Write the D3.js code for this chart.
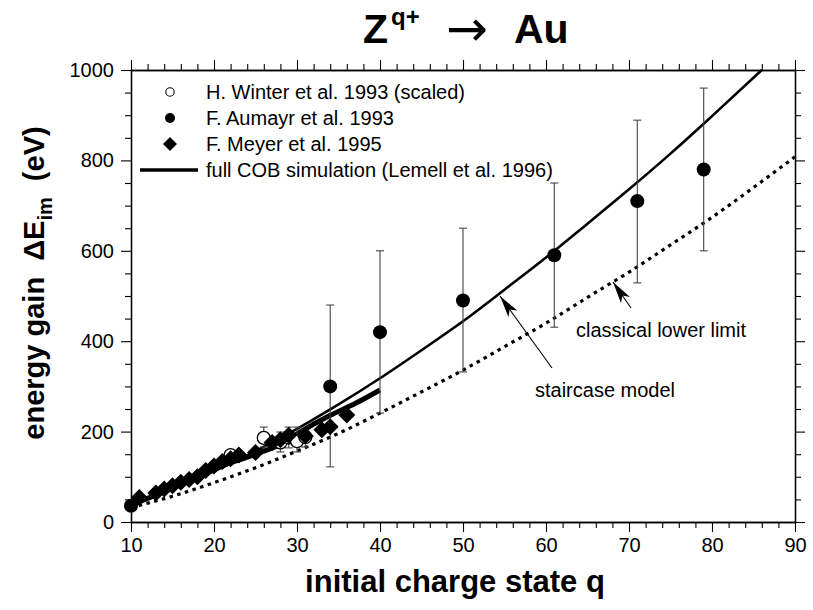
<!DOCTYPE html>
<html><head><meta charset="utf-8">
<script src="https://cdn.jsdelivr.net/npm/d3@7"></script>
<style>body{margin:0;background:#fff} text{font-family:Arial,"Liberation Sans",sans-serif;fill:#000}</style>
</head><body><svg id="c" width="813" height="610"></svg>
<script>
// ---- data ----
const winterQ  = [22, 26, 28, 29, 30, 31];
const winterE  = [148, 186, 176, 187, 179, 188];
const winterLo = [141, 166, 155, 164, 155, 166];
const winterHi = [156, 210, 199, 210, 210, 203];

const aumayrQ  = [10, 34, 40, 50, 61, 71, 79];
const aumayrE  = [36, 300, 420, 490, 590, 710, 780];
const aumayrLo = [36, 122, 241, 332, 431, 529, 600];
const aumayrHi = [36, 480, 600, 650, 750, 889, 960];

const meyerQ = [11, 13, 14, 15, 16, 17, 18, 19, 20, 21, 22, 23, 25, 27, 28, 29, 31, 33, 34, 36];
const meyerE = [54, 64, 73, 80, 88, 94, 100, 114, 124, 134, 140, 148, 154, 176, 182, 192, 190, 204, 211, 237];

const cobQ = [10, 15, 20, 25, 28, 30, 34, 37, 40];
const cobE = [38, 75, 118, 150, 172, 195, 236, 262, 292];

const stairQ = [10, 15, 20, 25, 30, 35, 40, 45, 50, 55, 60, 65, 70, 75, 80, 86];
const stairE = [40, 73, 112, 157, 206, 260, 318, 380, 444, 514, 585, 660, 736, 815, 898, 1000];

const classQ = [10, 15, 20, 25, 30, 35, 40, 45, 50, 55, 60, 65, 70, 75, 80, 85, 90];
const classE = [32, 57, 87, 120, 157, 196, 241, 288, 336, 388, 440, 497, 553, 613, 674, 740, 808];

const xMajor = [10, 20, 30, 40, 50, 60, 70, 80, 90];
const yMajor = [0, 200, 400, 600, 800, 1000];
const legendLabels = ["H. Winter et al. 1993 (scaled)", "F. Aumayr et al. 1993", "F. Meyer et al. 1995", "full COB simulation (Lemell et al. 1996)"];

// ---- drawing ----
const svg = d3.select("#c");
svg.append("rect").attr("width",813).attr("height",610).attr("fill","#fff");
const x = d3.scaleLinear().domain([10,90]).range([131,795]);
const y = d3.scaleLinear().domain([0,1000]).range([522,70]);

const xMinor = d3.range(10,91,2).filter(v=>v%10!==0);
const yMinor = d3.range(0,1001,50).filter(v=>v%200!==0);

function styleAxis(g){
  g.selectAll("path.domain").attr("stroke","#000").attr("stroke-width",1.3);
  g.selectAll(".tick line").attr("stroke","#000").attr("stroke-width",1.1);
  g.selectAll("text").style("font-family","Arial, 'Liberation Sans', sans-serif").style("font-size","20px").attr("fill","#000");
}
// bottom
svg.append("g").attr("transform","translate(0,522)")
  .call(d3.axisBottom(x).tickValues(xMajor).tickSize(10).tickSizeOuter(0).tickPadding(6).tickFormat(d3.format("d")))
  .call(styleAxis);
svg.append("g").attr("transform","translate(0,522)")
  .call(d3.axisBottom(x).tickValues(xMinor).tickSize(6).tickSizeOuter(0).tickFormat(""))
  .call(styleAxis);
// top
svg.append("g").attr("transform","translate(0,70)")
  .call(d3.axisTop(x).tickValues(xMajor).tickSize(10).tickSizeOuter(0).tickFormat(""))
  .call(styleAxis);
svg.append("g").attr("transform","translate(0,70)")
  .call(d3.axisTop(x).tickValues(xMinor).tickSize(6).tickSizeOuter(0).tickFormat(""))
  .call(styleAxis);
// left
svg.append("g").attr("transform","translate(131,0)")
  .call(d3.axisLeft(y).tickValues(yMajor).tickSize(10).tickSizeOuter(0).tickPadding(7).tickFormat(d3.format("d")))
  .call(styleAxis);
svg.append("g").attr("transform","translate(131,0)")
  .call(d3.axisLeft(y).tickValues(yMinor).tickSize(6).tickSizeOuter(0).tickFormat(""))
  .call(styleAxis);
// right
svg.append("g").attr("transform","translate(795,0)")
  .call(d3.axisRight(y).tickValues(yMajor).tickSize(10).tickSizeOuter(0).tickFormat(""))
  .call(styleAxis);
svg.append("g").attr("transform","translate(795,0)")
  .call(d3.axisRight(y).tickValues(yMinor).tickSize(6).tickSizeOuter(0).tickFormat(""))
  .call(styleAxis);

// curves
const line = d3.line().x(d=>x(d[0])).y(d=>y(d[1])).curve(d3.curveMonotoneX);
svg.append("path").datum(d3.zip(classQ,classE)).attr("d",line)
  .attr("fill","none").attr("stroke","#000").attr("stroke-width",3.2).attr("stroke-dasharray","3.5,4.5");
svg.append("path").datum(d3.zip(stairQ,stairE)).attr("d",line)
  .attr("fill","none").attr("stroke","#000").attr("stroke-width",2.6);
svg.append("path").datum(d3.zip(cobQ,cobE)).attr("d",line)
  .attr("fill","none").attr("stroke","#000").attr("stroke-width",5);

// error bars
function errBars(Q,Lo,Hi,cap){
  const g = svg.append("g").attr("stroke","#444").attr("stroke-width",1.1);
  Q.forEach((q,i)=>{
    if (Hi[i]-Lo[i] < 1) return;
    g.append("line").attr("x1",x(q)).attr("x2",x(q)).attr("y1",y(Lo[i])).attr("y2",y(Hi[i]));
    g.append("line").attr("x1",x(q)-cap).attr("x2",x(q)+cap).attr("y1",y(Lo[i])).attr("y2",y(Lo[i]));
    g.append("line").attr("x1",x(q)-cap).attr("x2",x(q)+cap).attr("y1",y(Hi[i])).attr("y2",y(Hi[i]));
  });
}
errBars(winterQ,winterLo,winterHi,4);
errBars(aumayrQ,aumayrLo,aumayrHi,4);

// Winter open circles
svg.append("g").selectAll("circle").data(d3.zip(winterQ,winterE)).join("circle")
  .attr("cx",d=>x(d[0])).attr("cy",d=>y(d[1])).attr("r",6.5)
  .attr("fill","#fff").attr("stroke","#000").attr("stroke-width",1.3);
// Meyer diamonds
const dia = s => `M0,${-s}L${s},0L0,${s}L${-s},0Z`;
svg.append("g").selectAll("path").data(d3.zip(meyerQ,meyerE)).join("path")
  .attr("d",dia(8.5)).attr("transform",d=>`translate(${x(d[0])},${y(d[1])})`).attr("fill","#000");
// Aumayr filled circles
svg.append("g").selectAll("circle").data(d3.zip(aumayrQ,aumayrE)).join("circle")
  .attr("cx",d=>x(d[0])).attr("cy",d=>y(d[1])).attr("r",7).attr("fill","#000");

// legend
const lg = svg.append("g");
const rows = [92,118,144,170];
lg.append("circle").attr("cx",170).attr("cy",rows[0]).attr("r",4.2).attr("fill","#fff").attr("stroke","#000").attr("stroke-width",1.1);
lg.append("circle").attr("cx",170).attr("cy",rows[1]).attr("r",5).attr("fill","#000");
lg.append("path").attr("d",dia(7)).attr("transform",`translate(170,${rows[2]})`).attr("fill","#000");
lg.append("line").attr("x1",140).attr("x2",198).attr("y1",rows[3]).attr("y2",rows[3]).attr("stroke","#000").attr("stroke-width",3.5);
legendLabels.forEach((t,i)=>{
  lg.append("text").attr("x",206).attr("y",rows[i]+7).style("font-size","20px").text(t);
});

// annotations with arrows
const defs = svg.append("defs");
defs.append("marker").attr("id","ah").attr("viewBox","0 -5 20 10").attr("refX",20).attr("refY",0)
  .attr("markerWidth",22).attr("markerHeight",11).attr("markerUnits","userSpaceOnUse").attr("orient","auto")
  .append("path").attr("d","M0,-5L20,0L0,5L5,0Z").attr("fill","#000");
svg.append("line").attr("x1",552).attr("y1",368).attr("x2",500).attr("y2",296)
  .attr("stroke","#000").attr("stroke-width",1.1).attr("marker-end","url(#ah)");
svg.append("line").attr("x1",631).attr("y1",308).attr("x2",613).attr("y2",282)
  .attr("stroke","#000").attr("stroke-width",1.1).attr("marker-end","url(#ah)");
svg.append("text").attr("x",535).attr("y",397).style("font-size","20px").text("staircase model");
svg.append("text").attr("x",576).attr("y",337).style("font-size","20px").text("classical lower limit");

// title
svg.append("text").attr("x",363).attr("y",43).style("font-size","41px").style("font-weight","bold").text("Z");
svg.append("text").attr("x",391).attr("y",25).style("font-size","24px").style("font-weight","bold").text("q+");
svg.append("text").attr("x",446).attr("y",46).style("font-family","'DejaVu Sans'").style("font-size","50px").text("→");
svg.append("text").attr("x",514).attr("y",43).style("font-size","41px").style("font-weight","bold").text("Au");

// axis titles
svg.append("text").attr("x",455).attr("y",592).attr("text-anchor","middle")
  .style("font-size","31px").style("font-weight","bold").text("initial charge state q");
const yl = svg.append("text").attr("transform","translate(44,283) rotate(-90)").attr("text-anchor","middle")
  .style("font-size","29px").style("font-weight","bold").style("white-space","pre").attr("xml:space","preserve");
yl.append("tspan").text("energy gain  ΔE");
yl.append("tspan").attr("dy",8).style("font-size","20px").text("im");
yl.append("tspan").attr("dy",-8).text("  (eV)");
</script></body></html>
